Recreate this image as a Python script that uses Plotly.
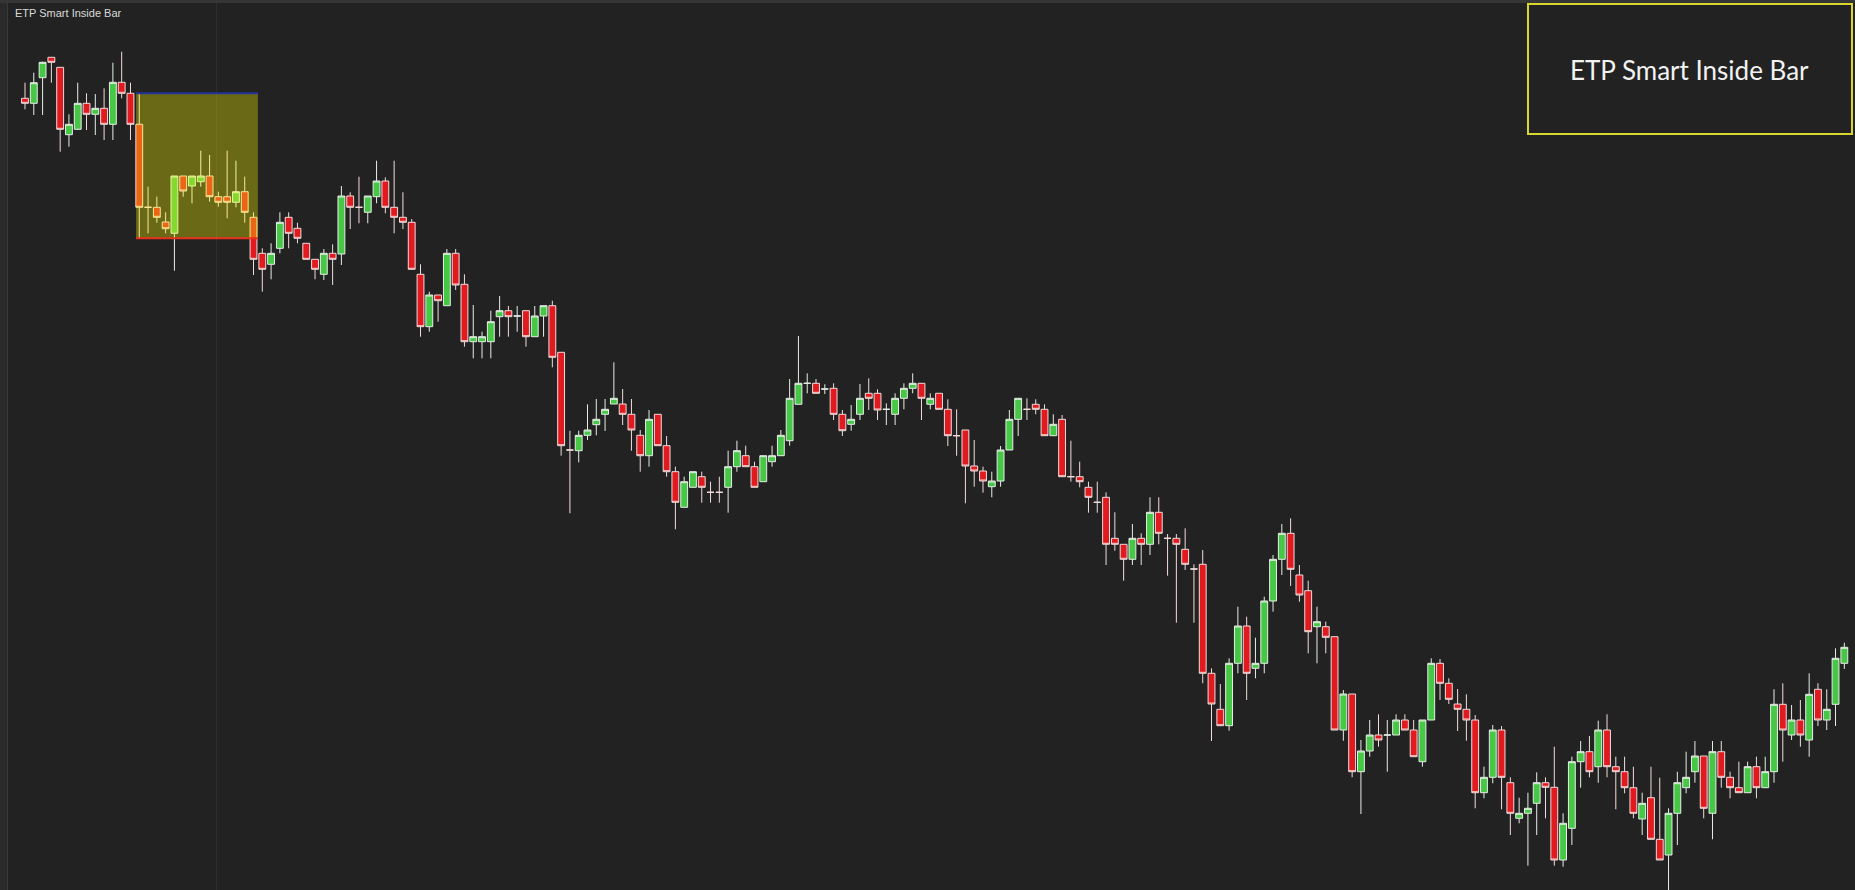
import plotly.graph_objects as go

# OHLC values (arbitrary price units)
opens = [901.7, 896.7, 922.3, 942.7, 932.7, 865.3, 870.7, 896.7, 885.7, 891.7,
         875.7, 917.7, 906.7, 875.7, 792.7, 792.7, 778.0, 766.7, 824.0, 814.0,
         818.3, 824.0, 803.3, 803.3, 797.7, 808.3, 782.7, 746.7, 735.7, 751.7,
         782.7, 771.7, 756.7, 740.7, 725.7, 746.7, 746.0, 804.0, 792.7, 787.7,
         803.3, 819.0, 792.7, 782.7, 777.7, 725.7, 673.3, 705.0, 694.3, 746.7,
         715.7, 658.3, 658.3, 658.3, 683.3, 689.3, 684.0, 689.3, 663.3, 684.0,
         694.3, 647.7, 550.0, 549.3, 564.7, 575.3, 585.7, 596.0, 596.0, 585.7,
         564.7, 544.3, 585.7, 554.3, 528.3, 492.7, 512.7, 523.3, 507.7, 507.7,
         512.7, 533.3, 544.3, 533.3, 518.3, 538.3, 544.3, 559.3, 595.7, 616.7,
         616.7, 611.0, 611.7, 585.7, 575.7, 585.7, 606.7, 606.7, 590.7, 585.7,
         601.7, 611.7, 616.7, 595.7, 606.7, 590.7, 564.3, 570.0, 534.0, 529.0,
         513.3, 519.0, 550.0, 580.7, 590.7, 595.7, 590.7, 564.3, 580.7, 523.3,
         523.3, 512.7, 497.7, 502.7, 461.7, 455.7, 440.7, 461.7, 455.7, 487.7,
         461.7, 461.7, 450.7, 431.0, 435.7, 326.7, 290.7, 274.3, 336.7, 374.0,
         331.7, 336.7, 399.0, 440.7, 466.7, 425.0, 409.3, 373.3, 373.3, 363.3,
         270.0, 306.0, 228.3, 249.0, 265.0, 265.0, 265.0, 280.0, 270.0, 238.3,
         280.0, 336.7, 316.7, 296.0, 290.7, 280.0, 207.3, 222.7, 270.0, 217.3,
         181.7, 186.7, 196.7, 217.3, 212.7, 140.0, 171.7, 238.3, 248.3, 233.3,
         270.0, 233.3, 228.3, 212.3, 181.0, 202.3, 160.7, 145.0, 186.7, 212.3,
         228.3, 244.0, 186.7, 248.3, 222.7, 212.3, 207.3, 233.3, 212.3, 228.3,
         295.7, 265.0, 280.0, 260.0, 310.7, 280.0, 295.7, 336.7]
highs = [917.3, 927.3, 938.3, 942.7, 932.7, 885.7, 917.3, 906.7, 906.0, 911.7,
         937.3, 948.3, 917.3, 906.7, 813.3, 803.3, 787.7, 824.0, 824.0, 824.0,
         849.3, 845.0, 808.3, 849.3, 839.3, 823.3, 787.7, 751.7, 756.7, 787.7,
         787.7, 777.3, 756.7, 740.7, 751.0, 755.7, 814.0, 807.7, 823.3, 804.0,
         839.3, 822.7, 839.3, 807.7, 781.0, 735.7, 708.3, 705.0, 751.0, 751.0,
         725.7, 695.0, 668.3, 689.3, 704.0, 694.0, 694.0, 689.3, 694.0, 694.3,
         699.3, 647.7, 569.3, 569.3, 595.7, 601.0, 601.0, 637.7, 611.0, 601.0,
         570.0, 590.0, 585.7, 564.0, 533.3, 523.3, 528.3, 528.3, 518.3, 523.3,
         549.3, 559.3, 554.3, 538.3, 544.3, 554.3, 570.0, 621.0, 664.0, 626.7,
         621.0, 615.7, 616.7, 590.0, 595.0, 616.0, 621.7, 610.7, 596.7, 606.7,
         616.7, 626.7, 616.7, 606.7, 606.7, 600.7, 590.7, 570.0, 560.0, 533.3,
         528.3, 554.0, 590.0, 601.7, 601.7, 600.7, 595.7, 585.7, 585.0, 559.3,
         538.3, 518.3, 518.3, 507.7, 487.7, 455.7, 476.0, 466.7, 502.7, 502.7,
         466.0, 466.0, 471.7, 435.7, 450.0, 331.7, 316.0, 341.7, 393.3, 383.3,
         362.3, 403.3, 445.0, 476.0, 481.7, 435.0, 419.3, 393.3, 378.3, 363.3,
         310.0, 306.0, 260.0, 280.0, 285.7, 280.0, 285.7, 285.7, 280.0, 280.0,
         341.7, 341.0, 321.7, 311.0, 305.7, 285.0, 233.3, 275.0, 274.0, 222.7,
         202.3, 207.3, 227.7, 222.7, 253.3, 186.7, 243.3, 259.0, 264.0, 279.3,
         285.7, 243.3, 243.3, 233.3, 207.3, 233.3, 222.3, 191.7, 228.3, 248.3,
         259.0, 244.0, 259.0, 259.0, 228.3, 238.3, 238.3, 243.3, 243.3, 310.7,
         316.7, 295.0, 300.0, 326.7, 316.7, 310.7, 351.7, 357.3]
lows = [890.7, 885.0, 885.0, 917.3, 848.3, 853.3, 870.0, 870.0, 865.0, 860.0,
        860.0, 901.7, 860.0, 761.7, 766.7, 777.3, 766.7, 729.3, 803.3, 796.7,
        813.3, 798.3, 793.3, 781.7, 792.7, 777.3, 725.0, 708.3, 720.7, 746.7,
        751.7, 756.7, 740.7, 720.7, 720.0, 715.0, 735.0, 771.0, 776.7, 776.7,
        796.7, 786.7, 766.7, 771.0, 730.7, 663.3, 668.3, 678.3, 694.3, 710.0,
        653.3, 641.7, 641.7, 641.7, 663.3, 663.3, 668.3, 653.3, 663.3, 663.3,
        632.7, 544.3, 486.7, 537.7, 560.0, 564.7, 569.0, 596.0, 575.0, 549.3,
        528.3, 533.3, 554.3, 523.3, 470.7, 492.7, 512.7, 497.3, 497.3, 497.3,
        487.3, 528.3, 533.3, 512.7, 518.3, 533.3, 544.3, 554.3, 595.7, 606.7,
        606.7, 606.0, 580.0, 564.0, 569.3, 580.0, 590.0, 580.0, 575.0, 575.0,
        590.7, 606.7, 580.0, 590.7, 590.7, 554.0, 544.3, 496.7, 513.3, 507.3,
        502.7, 513.3, 550.0, 564.0, 580.0, 585.7, 564.3, 564.3, 523.3, 518.3,
        512.7, 487.3, 487.3, 435.0, 449.3, 419.3, 435.0, 435.0, 445.0, 455.7,
        424.3, 377.3, 430.0, 377.3, 316.7, 259.0, 274.3, 269.3, 326.7, 300.0,
        321.7, 326.7, 388.3, 425.0, 414.0, 398.3, 346.7, 336.7, 346.7, 270.0,
        259.3, 222.7, 186.0, 243.3, 253.3, 228.3, 265.0, 270.0, 243.3, 233.3,
        280.0, 300.0, 296.0, 269.0, 259.3, 191.7, 201.7, 216.7, 190.7, 165.0,
        176.7, 134.3, 165.0, 181.7, 134.3, 133.3, 155.0, 212.3, 222.7, 217.3,
        222.7, 190.7, 206.7, 181.7, 165.0, 160.7, 140.0, 105.0, 155.0, 206.7,
        217.3, 181.7, 160.7, 212.3, 201.7, 207.3, 207.3, 201.7, 212.3, 217.3,
        238.3, 260.0, 253.3, 243.3, 274.0, 270.0, 274.0, 331.0]
closes = [896.7, 917.3, 937.7, 937.7, 870.7, 875.7, 896.7, 885.7, 891.7, 875.7,
          917.7, 906.7, 875.7, 792.7, 792.7, 782.7, 771.3, 824.0, 809.0, 824.0,
          824.0, 803.3, 797.7, 797.7, 808.3, 787.7, 740.7, 730.7, 746.7, 777.7,
          766.7, 761.7, 740.7, 730.7, 746.7, 740.7, 804.0, 792.7, 792.7, 804.0,
          819.0, 792.7, 782.7, 777.7, 730.7, 673.3, 705.0, 699.3, 746.7, 715.0,
          658.3, 663.3, 663.3, 678.3, 689.3, 683.3, 684.0, 663.3, 684.0, 694.3,
          642.7, 554.3, 550.0, 564.7, 570.0, 580.7, 590.7, 601.7, 585.7, 570.0,
          544.3, 580.7, 554.3, 528.3, 497.7, 518.3, 528.3, 512.7, 507.7, 507.7,
          533.3, 549.3, 533.3, 512.7, 544.3, 544.3, 564.7, 601.7, 616.7, 616.7,
          606.7, 611.0, 585.7, 569.3, 580.7, 601.7, 601.7, 590.0, 590.7, 601.7,
          611.7, 616.7, 601.7, 601.7, 590.7, 564.3, 564.3, 534.0, 529.0, 519.0,
          519.0, 550.0, 580.7, 601.7, 590.7, 590.7, 564.3, 575.7, 523.3, 523.3,
          518.3, 502.7, 497.7, 455.7, 455.7, 440.7, 461.7, 455.7, 487.7, 466.7,
          461.7, 455.7, 435.7, 431.0, 326.7, 296.0, 274.3, 336.7, 374.0, 326.7,
          336.7, 399.0, 440.7, 466.7, 430.7, 405.0, 368.3, 378.3, 362.7, 270.0,
          306.0, 228.3, 249.0, 265.0, 260.0, 265.0, 280.0, 270.0, 243.3, 280.0,
          336.7, 316.7, 300.7, 290.7, 280.0, 207.3, 222.7, 270.0, 222.7, 186.7,
          186.7, 191.7, 217.3, 212.7, 140.0, 176.7, 238.3, 248.3, 228.3, 270.0,
          233.3, 228.3, 212.3, 186.7, 196.7, 160.7, 140.0, 186.7, 217.3, 222.7,
          244.0, 191.7, 248.3, 222.7, 212.3, 207.3, 233.3, 212.3, 228.3, 295.7,
          270.0, 280.0, 265.0, 305.7, 280.0, 290.7, 341.7, 352.7]

bar_index = list(range(len(opens)))

# inside-bar pattern: mother bar and last contained bar (bar indices)
mother_bar = 13
last_inside_bar = 26
session_break = 21.8
title_text = "ETP Smart Inside Bar"

BG = "#222222"

fig = go.Figure()
fig.add_trace(go.Candlestick(
    x=bar_index, open=opens, high=highs, low=lows, close=closes,
    increasing=dict(fillcolor="#46C846", line=dict(color="#E6EEE6", width=1)),
    decreasing=dict(fillcolor="#E01A1F", line=dict(color="#F2DCDC", width=1)),
    whiskerwidth=0, showlegend=False, hoverinfo="skip",
))

W, H = 1855, 890
spacing = 8.789
x_start = -25 / spacing
x_end = x_start + W / spacing

shapes = []
# session separator
shapes.append(dict(type="line", xref="x", yref="paper", x0=session_break, x1=session_break,
                   y0=0, y1=1, line=dict(color="#303030", width=1), layer="below"))
# inside bar zone
bx0 = mother_bar - 0.36
bx1 = last_inside_bar + 0.5
shapes.append(dict(type="rect", xref="x", yref="y", x0=bx0, x1=bx1,
                   y0=lows[mother_bar], y1=highs[mother_bar],
                   fillcolor="rgba(255,255,0,0.33)", line=dict(width=0), layer="above"))
shapes.append(dict(type="line", xref="x", yref="y", x0=bx0, x1=bx1,
                   y0=highs[mother_bar], y1=highs[mother_bar],
                   line=dict(color="#22339A", width=2), layer="above"))
shapes.append(dict(type="line", xref="x", yref="y", x0=bx0, x1=bx1,
                   y0=lows[mother_bar], y1=lows[mother_bar],
                   line=dict(color="#E8301C", width=2), layer="above"))
# frame: left strip and top border
shapes.append(dict(type="rect", xref="paper", yref="paper", x0=0, x1=7 / W, y0=0, y1=1,
                   fillcolor="#2A2A2A", line=dict(width=0), layer="above"))
shapes.append(dict(type="line", xref="paper", yref="paper", x0=7.5 / W, x1=7.5 / W, y0=0, y1=1,
                   line=dict(color="#3A3A3A", width=1), layer="above"))
shapes.append(dict(type="line", xref="paper", yref="paper", x0=0, x1=1, y0=1 - 1.5 / H, y1=1 - 1.5 / H,
                   line=dict(color="#363636", width=3), layer="above"))
# legend box top-right
shapes.append(dict(type="rect", xref="paper", yref="paper",
                   x0=1528 / W, x1=1852 / W, y0=1 - 134 / H, y1=1 - 4 / H,
                   fillcolor=BG, line=dict(color="#D6D62C", width=2), layer="above"))

annotations = [
    dict(text=title_text, xref="paper", yref="paper", x=13 / W, y=1 - 13 / H,
         xanchor="left", yanchor="middle", showarrow=False,
         font=dict(family="Liberation Sans, Arial", size=11, color="#DADADA")),
    dict(text=title_text, xref="paper", yref="paper", x=1689 / W, y=1 - 70 / H,
         xanchor="center", yanchor="middle", showarrow=False,
         font=dict(family="Lato", size=26, color="#F2F2F2")),
]

fig.update_layout(
    width=W, height=H,
    margin=dict(l=0, r=0, t=0, b=0),
    paper_bgcolor=BG, plot_bgcolor=BG,
    boxgap=0.22, boxgroupgap=0,
    shapes=shapes, annotations=annotations,
    xaxis=dict(range=[x_start, x_end], visible=False, showgrid=False, zeroline=False,
               rangeslider=dict(visible=False), fixedrange=True),
    yaxis=dict(range=[110, 1000], visible=False, showgrid=False, zeroline=False, fixedrange=True),
    hovermode=False,
)

fig.write_html("out.html", config={"displayModeBar": False})
